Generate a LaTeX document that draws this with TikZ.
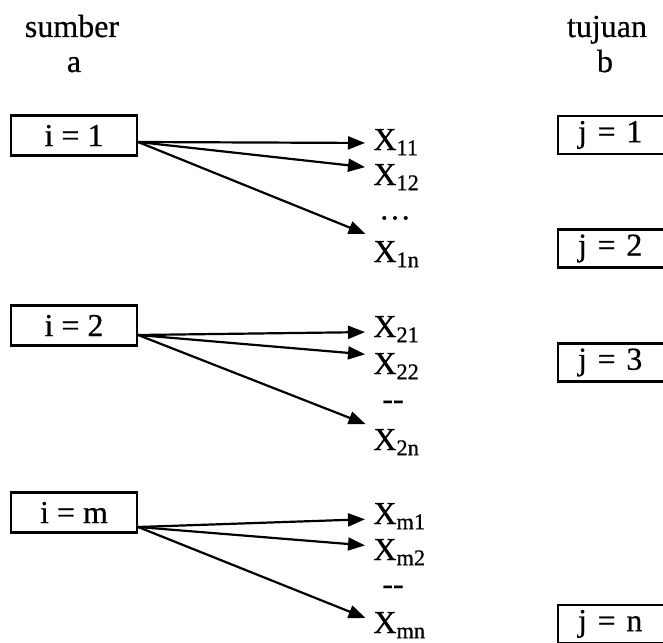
\documentclass[tikz,border=0pt]{standalone}
\usepackage{fontspec}
\setmainfont{Liberation Serif}[FakeBold=0.6]
\usetikzlibrary{arrows.meta}

\newcommand{\xvar}[1]{X\textsubscript{#1}}

\begin{document}
\begin{tikzpicture}[x=0.5pt, y=-0.5pt,
	every node/.style={font=\fontsize{16}{19}\selectfont},
	>={Triangle[length=8.5pt,width=6.5pt]},
	srcbox/.style={draw, line width=1.1pt, minimum width=63pt, minimum height=20pt, inner sep=0pt},
	dstbox/.style={draw, line width=1.1pt, text width=43pt, align=left, inner xsep=10pt, inner ysep=0pt, minimum height=19pt, anchor=west},
	lbl/.style={inner sep=0pt, anchor=base west},
	arr/.style={->, line width=1.1pt, shorten >=4pt}]
	\clip[use as bounding box] (0,0) rectangle (663,642);

	% headings
	\node[anchor=base] (sumber) at (72,37) {sumber};
	\node[anchor=base] (a) at (74,72) {a};
	\node[anchor=base] (tujuan) at (607,37) {tujuan};
	\node[anchor=base] (b) at (605,72) {b};

	% sources
	\node[srcbox] (i1) at (74,135.5) {i = 1};
	\node[srcbox] (i2) at (74,325.5) {i = 2};
	\node[srcbox] (im) at (74,512.5) {i = m};

	% destinations (cut off at the right edge)
	\node[dstbox] (j1) at (557,135) {j = 1};
	\node[dstbox] (j2) at (557,248.5) {j = 2};
	\node[dstbox] (j3) at (557,362.5) {j = 3};
	\node[dstbox] (jn) at (557,624) {j = n};

	% variables
	\node[lbl] (x11) at (373,150) {\xvar{11}};
	\node[lbl] (x12) at (373,185) {\xvar{12}};
	\node (d1) at (395,218) {\dots};
	\node[lbl] (x1n) at (373,262) {\xvar{1n}};

	\node[lbl] (x21) at (373,337) {\xvar{21}};
	\node[lbl] (x22) at (373,374) {\xvar{22}};
	\node (d2) at (393,405) {-{}-};
	\node[lbl] (x2n) at (373,450) {\xvar{2n}};

	\node[lbl] (xm1) at (373,524) {\xvar{m1}};
	\node[lbl] (xm2) at (373,560) {\xvar{m2}};
	\node (dm) at (393,590) {-{}-};
	\node[lbl] (xmn) at (373,633) {\xvar{mn}};

	% arrows
	\draw[arr] ([yshift=-3.25pt]i1.east) -- ([yshift=3.5pt]x11.base west);
	\draw[arr] ([yshift=-3.25pt]i1.east) -- ([yshift=8.5pt]x12.base west);
	\draw[arr] ([yshift=-3.25pt]i1.east) -- ([yshift=12.5pt]x1n.base west);

	\draw[arr] ([yshift=-4.75pt]i2.east) -- ([yshift=2.5pt]x21.base west);
	\draw[arr] ([yshift=-4.75pt]i2.east) -- ([yshift=9.5pt]x22.base west);
	\draw[arr] ([yshift=-4.75pt]i2.east) -- ([yshift=11.5pt]x2n.base west);

	\draw[arr] ([yshift=-7.25pt]im.east) -- ([yshift=2.5pt]xm1.base west);
	\draw[arr] ([yshift=-7.25pt]im.east) -- ([yshift=7pt]xm2.base west);
	\draw[arr] ([yshift=-7.25pt]im.east) -- ([yshift=6pt]xmn.base west);
\end{tikzpicture}
\end{document}
